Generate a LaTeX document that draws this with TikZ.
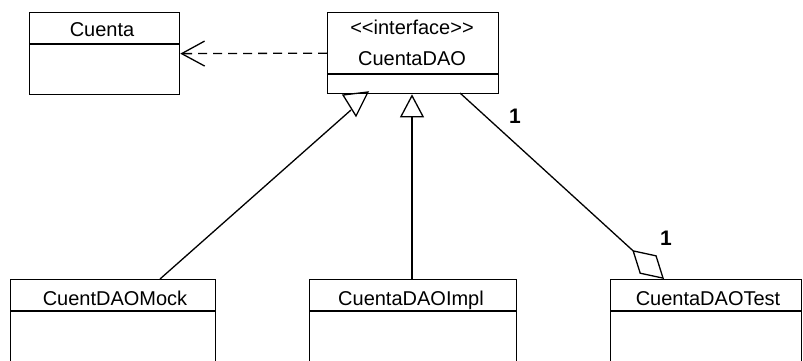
\documentclass[tikz,border=0pt]{standalone}
\usepackage{fontspec}
\setmainfont{Liberation Sans}
\usetikzlibrary{arrows.meta}
\begin{document}
\begin{tikzpicture}[x=1pt,y=-1pt,
  line width=1.3pt,
  classbox/.style={draw, rectangle, inner sep=0pt, anchor=north west},
  label text/.style={anchor=base, inner sep=0pt, font=\fontsize{20}{24}\selectfont},
  mult/.style={anchor=base, inner sep=0pt, font=\fontsize{21}{24}\selectfont\bfseries},
  realizes/.style={-{Triangle[open, length=23pt, width=24pt]}},
  depends/.style={dash pattern=on 9pt off 6pt, -{Straight Barb[length=23pt, width=25pt]}},
  aggregates/.style={{Diamond[open, length=43pt, width=25pt]}-}]
\useasboundingbox (0,0) rectangle (803,361);
\clip (0,0) rectangle (803,361);

% class boxes
\node[classbox, minimum width=150pt, minimum height=82pt] (cuenta) at (29,12) {};
\node[classbox, minimum width=171pt, minimum height=81pt] (dao) at (327,12) {};
\node[classbox, minimum width=205pt, minimum height=100pt] (mock) at (10,279) {};
\node[classbox, minimum width=207pt, minimum height=100pt] (impl) at (309,279) {};
\node[classbox, minimum width=191pt, minimum height=100pt] (test) at (610,279) {};

% compartment dividers
\draw ([yshift=-32pt]cuenta.north west) -- ([yshift=-32pt]cuenta.north east);
\draw ([yshift=-62pt]dao.north west) -- ([yshift=-62pt]dao.north east);
\draw ([yshift=-32pt]mock.north west) -- ([yshift=-32pt]mock.north east);
\draw ([yshift=-32pt]impl.north west) -- ([yshift=-32pt]impl.north east);
\draw ([yshift=-32pt]test.north west) -- ([yshift=-32pt]test.north east);

% class names
\node[label text] (cuentaName) at (102,37) {Cuenta};
\node[label text] (daoStereo) at (412,35) {{<}{<}interface{>}{>}};
\node[label text] (daoName) at (412,66) {CuentaDAO};
\node[label text] (mockName) at (115,305) {CuentDAOMock};
\node[label text] (implName) at (411,305) {CuentaDAOImpl};
\node[label text] (testName) at (708,305) {CuentaDAOTest};

% dependency
\draw[depends] (dao.west) -- (cuenta.east);

% realization from the mock
\coordinate (mockTop) at (160,279);
\coordinate (triL) at (343,95);
\coordinate (triR) at (368,92);
\coordinate (triB) at (356,116);
\coordinate (mockEnd) at (351,110);
\draw (mockTop) -- (mockEnd);
\draw[line join=miter] (triL) -- (triR) -- (triB) -- cycle;

% realization from the implementation
\draw[realizes] (impl.north -| 412,0) -- (dao.south -| 412,0);

% aggregation
\coordinate (daoAgg) at (460,93);
\coordinate (testAgg) at (664,279);
\draw[aggregates] (testAgg) -- (daoAgg);

% multiplicities
\node[mult] (multDao) at (515,123) {1};
\node[mult] (multTest) at (666,245) {1};
\end{tikzpicture}
\end{document}
